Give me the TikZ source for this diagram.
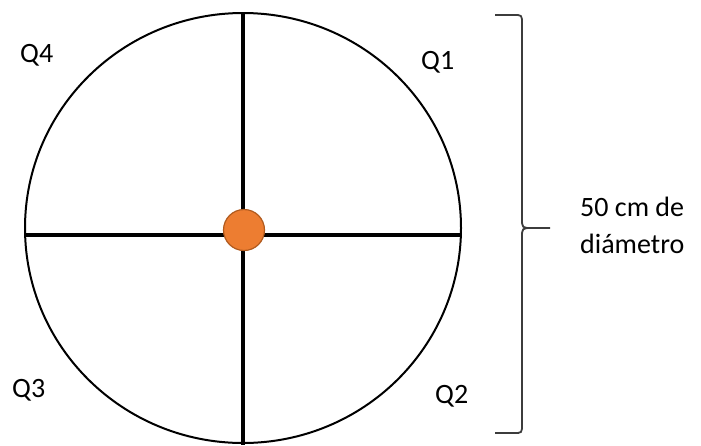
\documentclass[tikz,border=0pt]{standalone}
\usepackage{fontspec}
\setmainfont{Carlito}
\definecolor{dotorange}{HTML}{ED7D31}
\definecolor{dotedge}{HTML}{B05A1E}
\definecolor{bracegray}{HTML}{3C3C3C}
\newcommand{\PLQlabel}[3]{\node[anchor=base west,inner sep=0pt] (#1) at (#2) {#3};}

\begin{document}
\begin{tikzpicture}[x=1pt,y=-1pt,font=\fontsize{28}{37}\selectfont]
  \useasboundingbox (0,0) rectangle (701,445);
  % plot circle and axes
  \coordinate (centre) at (243,228);
  \draw[line width=2pt] (centre) ellipse[x radius=218,y radius=215];
  \coordinate (top) at (243,13);
  \coordinate (bottom) at (243,445);
  \coordinate (west) at (25,235);
  \coordinate (east) at (461,235);
  \draw[line width=3.4pt] (top) -- (bottom);
  \draw[line width=3.4pt] (west) -- (east);
  \node[circle,fill=dotorange,draw=dotedge,line width=1.2pt,minimum size=41pt,inner sep=0pt] (dot) at (244,230) {};
  % quadrants
  \PLQlabel{q4}{20,62}{Q4}
  \PLQlabel{q1}{421,69}{Q1}
  \PLQlabel{q3}{12,397}{Q3}
  \PLQlabel{q2}{435,403}{Q2}
  % brace
  \draw[bracegray,line width=1.8pt,line join=round]
    (495,15) -- (514,15) .. controls (522,15) .. (522,24) -- (522,218)
    .. controls (522,228) .. (532,228) -- (550,228);
  \draw[bracegray,line width=1.8pt,line join=round]
    (532,228) .. controls (522,228) .. (522,238) -- (522,424)
    .. controls (522,433) .. (514,433) -- (495,433);
  \node[anchor=base west,inner sep=0pt] (diam1) at (580,216) {50 cm de};
  \node[anchor=base west,inner sep=0pt] (diam2) at (580,253) {diámetro};
\end{tikzpicture}
\end{document}
